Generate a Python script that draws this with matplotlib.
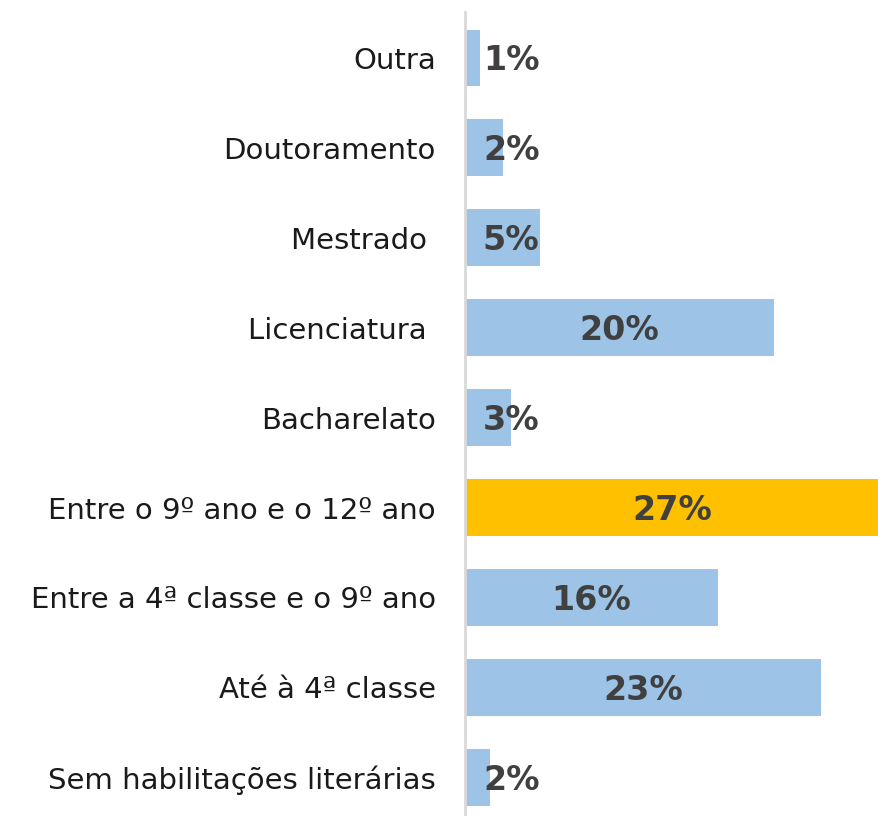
import matplotlib.pyplot as plt

categories = ['Outra', 'Doutoramento', 'Mestrado ', 'Licenciatura ', 'Bacharelato',
              'Entre o 9º ano e o 12º ano', 'Entre a 4ª classe e o 9º ano',
              'Até à 4ª classe', 'Sem habilitações literárias']
values = [0.95, 2.45, 4.85, 20.1, 3.0, 26.9, 16.45, 23.1, 1.6]
labels = ['1%', '2%', '5%', '20%', '3%', '27%', '16%', '23%', '2%']
highlight = 'Entre o 9º ano e o 12º ano'

blue = '#9DC3E6'
orange = '#FFC000'
colors = [orange if c == highlight else blue for c in categories]

fig = plt.figure(figsize=(8.79, 8.16), dpi=100)
ax = fig.add_axes([465/879, 0, 1 - 465/879, 1 - 12/816])

pos = list(range(len(categories)))
ax.barh(pos, values, height=0.63, color=colors)

for p, v, t in zip(pos, values, labels):
    ax.text(max(v / 2, 3.0), p + 0.03, t, ha='center', va='center',
            fontsize=24, fontweight='bold', color='#404040')

ax.set_yticks(pos)
ax.set_yticklabels(categories, fontsize=21, color='#1a1a1a')
ax.tick_params(axis='y', length=0, pad=21)
ax.set_xticks([])
ax.set_xlim(0, 26.9)
ax.set_ylim(len(categories) - 1 + 0.43, -0.51)

for s in ['top', 'right', 'bottom']:
    ax.spines[s].set_visible(False)
ax.spines['left'].set_color('#D9D9D9')
ax.spines['left'].set_linewidth(2)

fig.savefig('out.png', dpi=100)
